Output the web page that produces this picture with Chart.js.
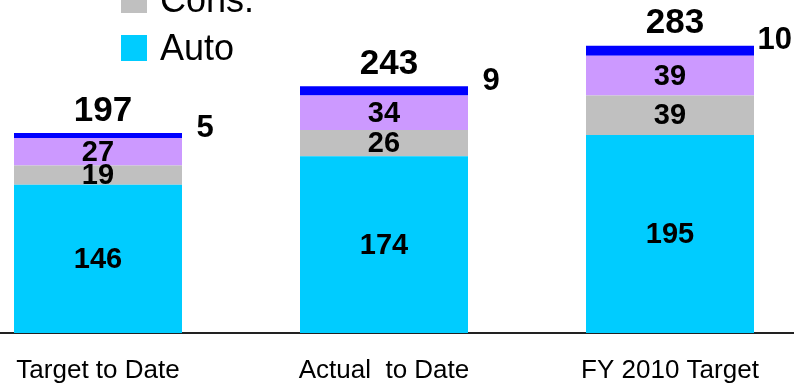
<!DOCTYPE html>
<html>
<head>
<meta charset="utf-8">
<script src="https://cdn.jsdelivr.net/npm/chart.js@4/dist/chart.umd.min.js"></script>
<style>
  html, body { margin: 0; padding: 0; background: #fff; overflow: hidden; }
  #wrap { position: relative; width: 794px; height: 384px; overflow: hidden; }
  #cv { position: absolute; left: -45px; top: 0; }
  #legend { position: absolute; left: 121px; top: -13px; font-family: 'Liberation Sans', Arial, sans-serif; font-size: 36px; color: #000; }
  .li { display: flex; align-items: center; height: 26px; margin-bottom: 22px; }
  .sw { width: 26px; height: 26px; margin-right: 13px; }
</style>
</head>
<body>
<div id="wrap">
  <canvas id="cv" width="858" height="384"></canvas>
  <div id="legend"></div>
</div>
<script>
const categories = ['Target to Date', 'Actual  to Date', 'FY 2010 Target'];
const autoValues = [146, 174, 195];
const consValues = [19, 26, 39];
const thirdValues = [27, 34, 39];
const topValues = [5, 9, 10];
const seriesNames = ['Auto', 'Cons.', '', ''];
const seriesColors = ['#00CCFF', '#C0C0C0', '#CC99FF', '#0000FF'];

const datasets = [autoValues, consValues, thirdValues, topValues].map((vals, i) => ({
  label: seriesNames[i],
  data: vals,
  backgroundColor: seriesColors[i],
  borderWidth: 0,
  barPercentage: 1,
  categoryPercentage: 168 / 286
}));

// HTML legend (reverse order, named series only)
const leg = document.getElementById('legend');
datasets.slice().reverse().forEach(d => {
  if (!d.label) return;
  const row = document.createElement('div');
  row.className = 'li';
  const sw = document.createElement('div');
  sw.className = 'sw';
  sw.style.background = d.backgroundColor;
  const tx = document.createElement('span');
  tx.textContent = d.label;
  row.appendChild(sw); row.appendChild(tx);
  leg.appendChild(row);
});

const labelPlugin = {
  id: 'labels',
  afterDatasetsDraw(chart) {
    const ctx = chart.ctx;
    ctx.save();
    ctx.fillStyle = '#000';
    ctx.textBaseline = 'middle';
    ctx.textAlign = 'center';
    // segment labels
    ctx.font = 'bold 29px "Liberation Sans", Arial, sans-serif';
    for (let d = 0; d < 3; d++) {
      chart.getDatasetMeta(d).data.forEach((el, i) => {
        ctx.fillText(String(chart.data.datasets[d].data[i]), el.x, (el.y + el.base) / 2 + 1);
      });
    }
    const topMeta = chart.getDatasetMeta(3);
    const canvasOffset = 45;
    topMeta.data.forEach((el, i) => {
      // total above bar
      let total = 0;
      chart.data.datasets.forEach(ds => total += ds.data[i]);
      ctx.font = 'bold 35px "Liberation Sans", Arial, sans-serif';
      ctx.textAlign = 'center';
      ctx.fillText(String(total), el.x + 5, el.y - 22);
      // top series value to the right
      ctx.font = 'bold 31px "Liberation Sans", Arial, sans-serif';
      const txt = String(chart.data.datasets[3].data[i]);
      const w = ctx.measureText(txt).width;
      let cx = el.x + el.width / 2 + 23;
      const maxCx = canvasOffset + 792 - w / 2;
      if (cx > maxCx) cx = maxCx;
      ctx.fillText(txt, cx, el.y - 5);
    });
    ctx.restore();
  }
};

new Chart(document.getElementById('cv'), {
  type: 'bar',
  data: { labels: categories, datasets },
  options: {
    responsive: false,
    animation: false,
    devicePixelRatio: 1,
    layout: { padding: 0 },
    plugins: { legend: { display: false }, tooltip: { enabled: false } },
    scales: {
      x: {
        stacked: true,
        grid: { display: false, drawTicks: false },
        border: { display: true, color: '#222', width: 2 },
        ticks: {
          color: '#000',
          padding: 22,
          font: { family: "'Liberation Sans Narrow', 'Arial Narrow', 'Liberation Sans'", size: 26 }
        },
        afterFit(scale) { scale.height = 51; }
      },
      y: {
        stacked: true,
        display: false,
        min: 0,
        max: 328
      }
    }
  },
  plugins: [labelPlugin]
});
</script>
</body>
</html>
